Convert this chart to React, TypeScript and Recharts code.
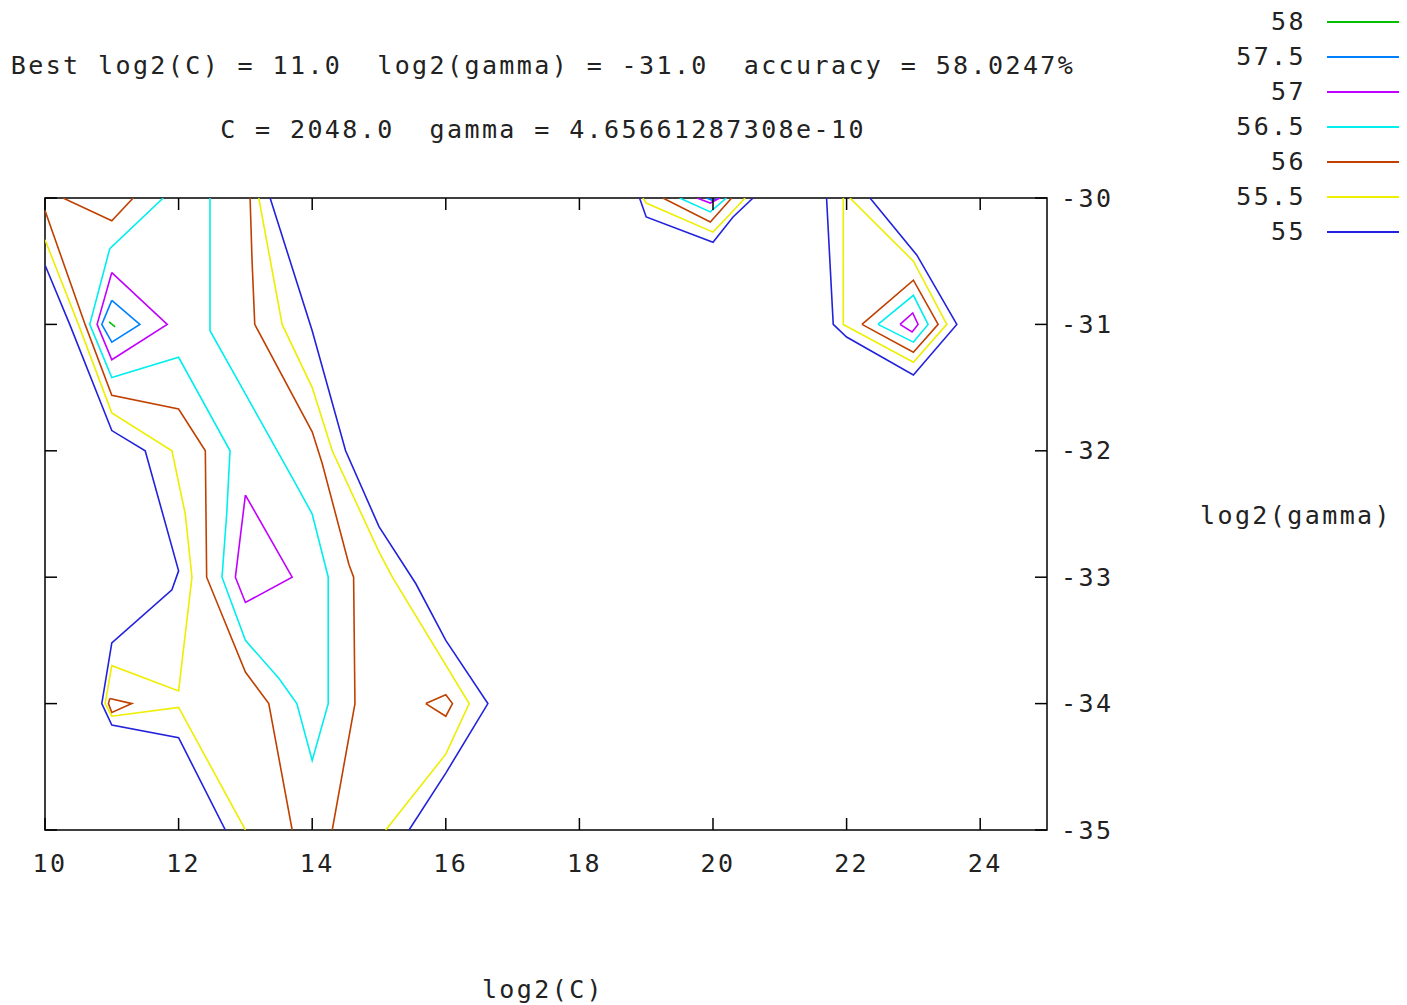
import React from 'react'
import { ScatterChart, Scatter, XAxis, YAxis, ReferenceArea } from 'recharts'

type Pt = [number, number]

const levels = ['58', '57.5', '57', '56.5', '56', '55.5', '55']
const levelColors = ['#00c000', '#0080ff', '#c000ff', '#00eeee', '#c04000', '#eeee00', '#2222dd']

const xTicks = [10, 12, 14, 16, 18, 20, 22, 24]
const yTicks = [-30, -31, -32, -33, -34, -35]

// contour pieces, one list per level, points as [log2(C), log2(gamma)]
const c58: Pt[][] = [
  [[10.96, -30.98], [11.05, -31.02]],
]
const c575: Pt[][] = [
  [[11, -30.81], [11.42, -31], [11, -31.14], [10.85, -31], [11, -30.81]],
  [[19.9, -30], [20, -30.02], [20.08, -30]],
]
const c57: Pt[][] = [
  [[11, -30.59], [11.83, -31], [11, -31.28], [10.78, -31], [11, -30.59]],
  [[13, -32.35], [13.7, -33], [13, -33.2], [12.85, -33], [13, -32.35]],
  [[19.76, -30], [19.96, -30.04], [20.1, -30]],
  [[22.8, -31], [22.99, -30.91], [23.07, -31], [22.98, -31.06], [22.8, -31]],
]
const c565: Pt[][] = [
  [[11.77, -30], [10.97, -30.4], [10.67, -31], [11, -31.42], [12, -31.26], [12.77, -32], [12.72, -32.5],
   [12.65, -33], [13, -33.5], [13.5, -33.8], [13.77, -34], [14, -34.45], [14.24, -34], [14.24, -33],
   [14, -32.5], [13.72, -32.23], [13, -31.55], [12.47, -31.05], [12.47, -30]],
  [[19.5, -30], [19.96, -30.11], [20.2, -30]],
  [[22.47, -31], [23, -30.77], [23.22, -31], [23, -31.14], [22.47, -31]],
]
const c56: Pt[][] = [
  [[10.27, -30], [11, -30.18], [11.32, -30]],
  [[10, -30.1], [10.6, -31], [11, -31.56], [12, -31.67], [12.4, -32], [12.42, -33], [13, -33.75], [13.35, -34], [13.7, -35]],
  [[10.97, -33.96], [11.3, -34], [11, -34.07], [10.95, -34], [10.97, -33.96]],
  [[13.07, -30], [13.1, -30.5], [13.14, -31], [14, -31.85], [14.15, -32.1], [14.55, -32.9], [14.62, -33], [14.64, -34], [14.3, -35]],
  [[15.7, -34], [16, -33.93], [16.1, -34], [16, -34.1], [15.7, -34]],
  [[19.25, -30], [19.96, -30.19], [20.28, -30]],
  [[22.23, -31], [23, -30.65], [23.37, -31], [23, -31.22], [22.23, -31]],
]
const c555: Pt[][] = [
  [[10, -30.33], [10.5, -31], [11, -31.7], [11.9, -32], [12.1, -32.5], [12.2, -33], [12, -33.9], [11, -33.7],
   [10.9, -34], [11, -34.1], [12, -34.03], [13, -35]],
  [[13.2, -30], [13.55, -31], [14, -31.5], [14.3, -32], [15, -32.8], [15.2, -33], [16.35, -34], [16, -34.4], [15.1, -35]],
  [[18.95, -30], [19, -30.04], [20, -30.27], [20.25, -30.13], [20.48, -30]],
  [[21.95, -30], [21.95, -31], [23, -31.3], [23.5, -31], [23, -30.5], [22.05, -30]],
]
const c55: Pt[][] = [
  [[10, -30.53], [10.37, -31], [11, -31.84], [11.5, -32], [12, -32.95], [11.9, -33.1], [11, -33.52],
   [10.85, -34], [11, -34.17], [12, -34.27], [12.7, -35]],
  [[13.37, -30], [14, -31.05], [14.5, -32], [15, -32.6], [15.55, -33.05], [16, -33.5], [16.63, -34], [16, -34.55], [15.45, -35]],
  [[18.9, -30], [19, -30.15], [20, -30.35], [20.3, -30.15], [20.6, -30]],
  [[21.7, -30], [21.8, -31], [22, -31.1], [23, -31.4], [23.65, -31], [23.05, -30.45], [22.35, -30]],
]

const contours = [c58, c575, c57, c565, c56, c555, c55]

const PW = 1002
const PH = 632
const FONT = '"DejaVu Sans Mono", "Liberation Mono", monospace'
const textStyle: React.CSSProperties = {
  fontFamily: FONT, fontSize: 25, letterSpacing: 2.4, color: '#222', whiteSpace: 'pre', lineHeight: '26px',
}

function XTick(props: any) {
  const { x, y, payload } = props
  return (
    <g>
      <line x1={x} y1={y} x2={x} y2={y - 12} stroke="#000" strokeWidth={1.5} />
      <line x1={x} y1={y - PH} x2={x} y2={y - PH + 12} stroke="#000" strokeWidth={1.5} />
      <text x={x + 5} y={y + 33} textAnchor="middle" dominantBaseline="central"
        fontFamily={FONT} fontSize={25} letterSpacing={2.4} fill="#222">{payload.value}</text>
    </g>
  )
}

function YTick(props: any) {
  const { x, y, payload } = props
  return (
    <g>
      <line x1={x} y1={y} x2={x - 12} y2={y} stroke="#000" strokeWidth={1.5} />
      <line x1={x - PW} y1={y} x2={x - PW + 12} y2={y} stroke="#000" strokeWidth={1.5} />
      <text x={x + 14} y={y} textAnchor="start" dominantBaseline="central"
        fontFamily={FONT} fontSize={25} letterSpacing={2.4} fill="#222">{String(payload.value)}</text>
    </g>
  )
}

export default function App() {
  return (
    <div style={{ position: 'relative', width: 1399, height: 997, overflow: 'hidden', background: '#fff' }}>
      <div style={{ ...textStyle, position: 'absolute', left: 0, width: 1070, top: 45, textAlign: 'center' }}>
        {'Best log2(C) = 11.0  log2(gamma) = -31.0  accuracy = 58.0247%'}
      </div>
      <div style={{ ...textStyle, position: 'absolute', left: 0, width: 1070, top: 109, textAlign: 'center' }}>
        {'C = 2048.0  gamma = 4.65661287308e-10'}
      </div>
      <ScatterChart width={1399} height={985} margin={{ top: 190, right: 300, bottom: 123, left: 37 }}>
        <XAxis type="number" dataKey="x" domain={[10, 25]} ticks={xTicks} allowDataOverflow
          axisLine={false} tickLine={false} tickSize={0} tickMargin={0} height={40} interval={0} tick={<XTick />} />
        <YAxis type="number" dataKey="y" orientation="right" domain={[-35, -30]} ticks={yTicks} allowDataOverflow
          axisLine={false} tickLine={false} tickSize={0} tickMargin={0} width={60} interval={0} tick={<YTick />} />
        <ReferenceArea x1={10} x2={25} y1={-35} y2={-30} fill="none" stroke="#000" strokeWidth={1.5} />
        {contours.map((pieces, li) =>
          pieces.map((pts, pi) => (
            <Scatter key={`${li}-${pi}`} data={pts.map(([x, y]) => ({ x, y }))}
              line={{ stroke: levelColors[li], strokeWidth: 1.6 }} lineType="joint"
              shape={() => <g />} isAnimationActive={false} />
          ))
        )}
      </ScatterChart>
      <div style={{ ...textStyle, position: 'absolute', left: 435, width: 200, top: 969, textAlign: 'center' }}>log2(C)</div>
      <div style={{ ...textStyle, position: 'absolute', left: 1188, width: 200, top: 495, textAlign: 'center' }}>log2(gamma)</div>
      {levels.map((lv, i) => (
        <div key={lv} style={{ position: 'absolute', left: 1150, top: 1 + i * 35, height: 26, width: 249 }}>
          <span style={{ ...textStyle, position: 'absolute', right: 101, top: 0 }}>{lv}</span>
          <span style={{ position: 'absolute', left: 169, top: 12, width: 80, height: 1.6, background: levelColors[i] }} />
        </div>
      ))}
    </div>
  )
}
